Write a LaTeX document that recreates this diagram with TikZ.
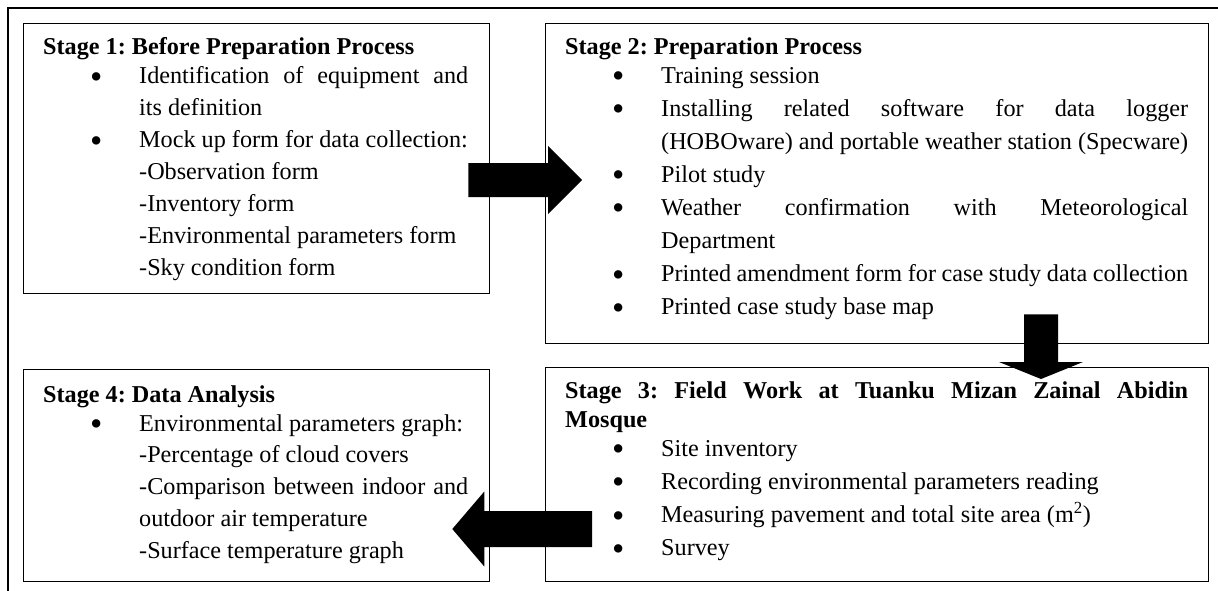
\documentclass[tikz,border=0pt]{standalone}
\usepackage{fontspec}
\setmainfont{Liberation Serif}
\usetikzlibrary{calc}
\newcommand\bigbullet{\raisebox{-4.5pt}{\scalebox{1.45}{\textbullet}}}
\newcommand\bitem{\par\hangindent=96pt\hangafter=0\noindent\llap{\makebox[49pt][l]{\bigbullet}}\ignorespaces}
\newcommand\stitle[1]{{\fontsize{24.2}{29}\selectfont\bfseries #1\par}\vspace{\dimexpr29pt-\baselineskip\relax}}
\newcommand\stagetext[3]{\parbox[t]{#1}{\fontsize{24.2}{#2}\selectfont\frenchspacing\tolerance=10000\hbadness=10000\hyphenpenalty=10000\exhyphenpenalty=10000 #3}}
\tikzset{
  stagebox/.style={draw=black, line width=1.3pt, anchor=north west, inner sep=0pt},
  stagetxt/.style={anchor=base west, inner sep=0pt},
  blockarrow/.style={fill=black, draw=none},
  outerframe/.style={draw=black, line width=2pt, anchor=north west, inner sep=0pt}
}
\begin{document}
\begin{tikzpicture}[x=1pt,y=-1pt]
\useasboundingbox (0,0) rectangle (1218,590);
% outer frame (right and bottom edges lie outside the picture)
\node[outerframe, minimum width=1250pt, minimum height=620pt] (frame) at (7,7) {};
% boxes
\node[stagebox, minimum width=466pt, minimum height=270pt] (s1) at (23,23) {};
\node[stagebox, minimum width=663pt, minimum height=320pt] (s2) at (545,23) {};
\node[stagebox, minimum width=663pt, minimum height=214pt] (s3) at (545,367) {};
\node[stagebox, minimum width=466pt, minimum height=212pt] (s4) at (23,369) {};
% texts
\node[stagetxt] (t1) at ($(s1.north west)+(20,31.5)$) {\stagetext{425pt}{32}{%
\stitle{Stage 1: Before Preparation Process}
\bitem Identification of equipment and\linebreak its definition
\bitem Mock up form for data collection:\newline -Observation form\newline -Inventory form\newline -Environmental parameters form\newline -Sky condition form}};
\node[stagetxt] (t2) at ($(s2.north west)+(20,31)$) {\stagetext{623pt}{33.1}{%
\stitle{Stage 2: Preparation Process}
\bitem Training session
\bitem Installing related software for data logger\linebreak (HOBOware) and portable weather station (Specware)
\bitem Pilot study
\bitem Weather confirmation with Meteorological\linebreak Department
\bitem Printed amendment form for case study data collection
\bitem Printed case study base map}};
\node[stagetxt] (t3) at ($(s3.north west)+(20,31)$) {\stagetext{623pt}{33.3}{%
\stitle{Stage 3: Field Work at Tuanku Mizan Zainal Abidin\linebreak Mosque}
\bitem Site inventory
\bitem Recording environmental parameters reading
\bitem Measuring pavement and total site area (m\textsuperscript{2})
\bitem Survey}};
\node[stagetxt] (t4) at ($(s4.north west)+(20,33)$) {\stagetext{425pt}{31.8}{%
\stitle{Stage 4: Data Analysis}
\bitem Environmental parameters graph:\newline -Percentage of cloud covers\newline -Comparison between indoor and\linebreak outdoor air temperature\newline -Surface temperature graph}};
% block arrows
\coordinate (a12s) at ($(s1.north east)+(-22,157)$);
\coordinate (a12t) at ($(s2.north west)+(37,157)$);
\fill[blockarrow] ($(a12s)+(0,-17)$) -| ($(a12t)+(-34,-34)$) -- (a12t) -- ($(a12t)+(-34,34)$) |- ($(a12s)+(0,17)$) -- cycle;
\coordinate (a23s) at ($(s2.south west)+(496,-30)$);
\coordinate (a23t) at ($(s3.north west)+(496,12)$);
\fill[blockarrow] ($(a23s)+(-17,0)$) |- ($(a23t)+(-42,-17)$) -- (a23t) -- ($(a23t)+(42,-17)$) -| ($(a23s)+(17,0)$) -- cycle;
\coordinate (a34s) at ($(s3.north west)+(47,162)$);
\coordinate (a34t) at ($(s4.north east)+(-38,160)$);
\fill[blockarrow] ($(a34s)+(0,-18)$) -| ($(a34t)+(32,-37.5)$) -- (a34t) -- ($(a34t)+(32,37.5)$) |- ($(a34s)+(0,18)$) -- cycle;
\end{tikzpicture}
\end{document}
